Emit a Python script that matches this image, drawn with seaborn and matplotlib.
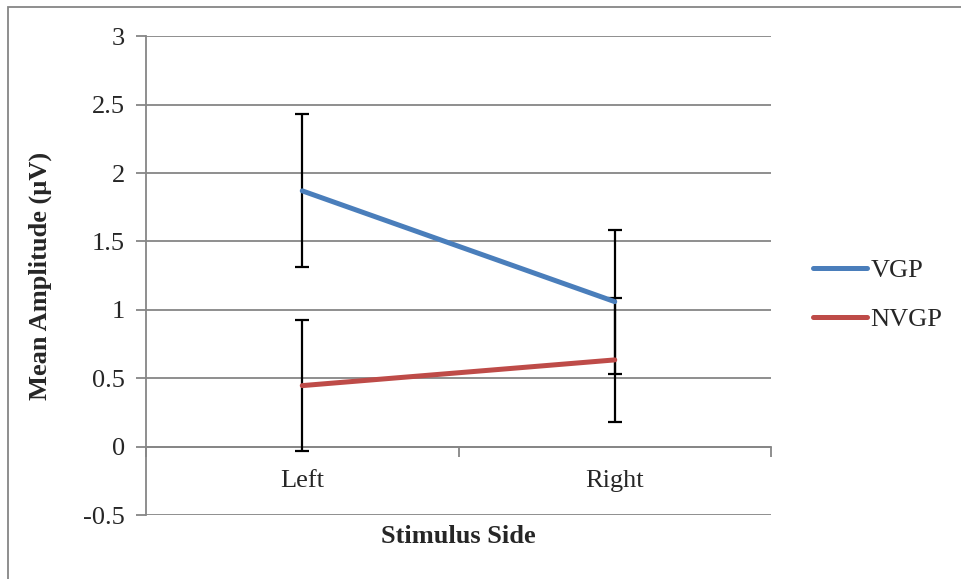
import matplotlib
matplotlib.use("Agg")
import matplotlib.pyplot as plt
import seaborn as sns
import pandas as pd
import numpy as np
from matplotlib.patches import Rectangle
from matplotlib.lines import Line2D

categories = ["Left", "Right"]
series_names = ["VGP", "NVGP"]
vgp_mean = [1.87, 1.06]
vgp_err = [0.56, 0.527]
nvgp_mean = [0.446, 0.634]
nvgp_err = [0.48, 0.453]
y_ticks = [-0.5, 0, 0.5, 1, 1.5, 2, 2.5, 3]
y_tick_labels = ["-0.5", "0", "0.5", "1", "1.5", "2", "2.5", "3"]

colors = {"VGP": "#4A7EBB", "NVGP": "#BE4B48"}
grid_color = "#868686"
FS = 19

sns.set_style("white")
plt.rcParams['font.family'] = ['Liberation Serif', 'DejaVu Serif']

df = pd.DataFrame({
    "side": categories * 2,
    "pos": list(range(len(categories))) * 2,
    "group": ["VGP"] * 2 + ["NVGP"] * 2,
    "mean": vgp_mean + nvgp_mean,
    "err": vgp_err + nvgp_err,
})

fig = plt.figure(figsize=(9.61, 5.79), dpi=100)
ax = fig.add_axes([146/961, 1 - 515/579, (771-146)/961, (515-36.3)/579])

# error bars
for g in series_names:
    sub = df[df.group == g]
    ax.errorbar(sub["pos"], sub["mean"], yerr=sub["err"], fmt="none",
                ecolor="black", elinewidth=1.6, capsize=5, capthick=1.6, zorder=3)

sns.lineplot(data=df, x="pos", y="mean", hue="group", hue_order=series_names,
             palette=colors, linewidth=3.6, ax=ax, legend=False, zorder=4,
             solid_capstyle="round")

ax.set_xlim(-0.5, 1.5)
ax.set_ylim(-0.5, 3)
ax.set_yticks(y_ticks)
ax.set_yticklabels(y_tick_labels)
ax.grid(axis="y", color=grid_color, linewidth=1.3)
ax.set_axisbelow(True)

# x axis crosses at 0
ax.spines["bottom"].set_position(("data", 0))
ax.spines["bottom"].set_color(grid_color)
ax.spines["bottom"].set_linewidth(1.3)
ax.spines["left"].set_color(grid_color)
ax.spines["left"].set_linewidth(1.3)
ax.spines["top"].set_visible(False)
ax.spines["right"].set_visible(False)

ax.set_xticks([-0.5, 0.5, 1.5])
ax.set_xticklabels(["", "", ""])
ax.set_xticks([0, 1], minor=True)
ax.set_xticklabels(categories, minor=True)
ax.tick_params(axis="x", which="major", direction="out", length=7, width=1.3, color=grid_color)
ax.tick_params(axis="x", which="minor", length=0, pad=17, labelsize=FS)
ax.tick_params(axis="y", direction="out", length=7, width=1.3, color=grid_color, labelsize=FS, pad=8)
ax.yaxis.set_ticks_position("left")
ax.xaxis.set_ticks_position("bottom")

ax.set_xlabel("Stimulus Side", fontsize=FS, fontweight="bold")
ax.xaxis.set_label_coords(0.5, -0.02)
ax.set_ylabel("Mean Amplitude (µV)", fontsize=FS, fontweight="bold")
ax.yaxis.set_label_coords(-0.15, 0.5)

handles = [Line2D([0], [0], color=colors[g], linewidth=3.6, solid_capstyle="round") for g in series_names]
fig.legend(handles, series_names, loc="center left", bbox_to_anchor=(813/961, 1 - 295/579),
           frameon=False, fontsize=FS, handlelength=2.05, handletextpad=0.12, labelspacing=0.95,
           borderpad=0, borderaxespad=0)

fig.patches.append(Rectangle((8/961, -0.1), 1.2, 1 - 7/579 + 0.1, transform=fig.transFigure,
                             fill=False, edgecolor=grid_color, linewidth=1.3))

fig.savefig("out.png", dpi=100)
